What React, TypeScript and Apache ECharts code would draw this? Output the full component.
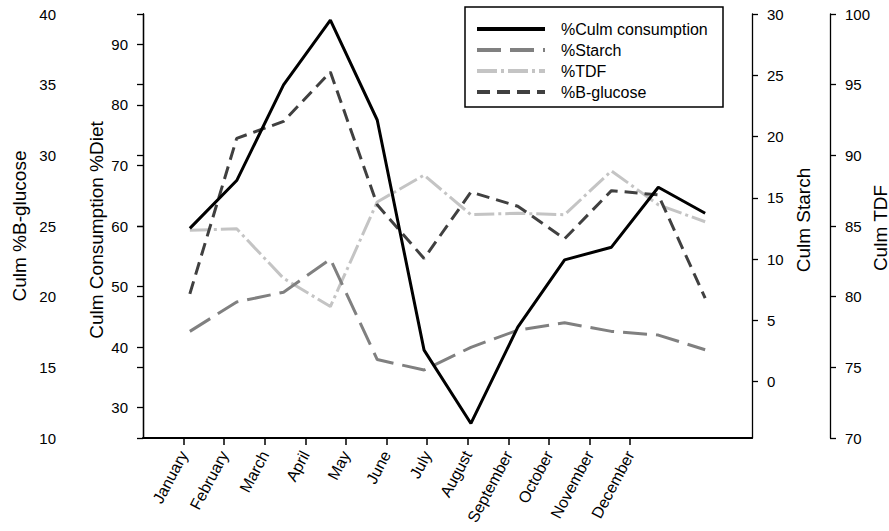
import React, { useEffect, useRef } from "react";
import * as echarts from "echarts";

// Months shown along the bottom axis
const months = [
  "January", "February", "March", "April", "May", "June",
  "July", "August", "September", "October", "November", "December",
];

// Monthly values for each series
const culmConsumption = [59.6, 67.5, 83.3, 94.0, 77.5, 39.5, 27.4, 43.3, 54.4, 56.5, 66.4, 62.1];
const starch = [4.1, 6.5, 7.3, 10.0, 1.8, 0.95, 2.8, 4.2, 4.8, 4.1, 3.8, 2.6];
const tdf = [84.7, 84.8, 81.3, 79.3, 86.7, 88.6, 85.8, 85.9, 85.8, 88.9, 86.5, 85.3];
const bGlucose = [20.2, 31.2, 32.4, 35.9, 26.5, 22.7, 27.4, 26.4, 24.1, 27.5, 27.2, 19.9];

// Tick values for each axis
const monthTicks = [1, 2, 3, 4, 5, 6, 7, 8, 9, 10, 11, 12];
const consumptionTicks = [30, 40, 50, 60, 70, 80, 90];
const starchTicks = [0, 5, 10, 15, 20, 25, 30];

const FONT = "'Liberation Sans', Arial, Helvetica, sans-serif";
const AXIS_COLOR = "#000";

const pairs = (vals: number[]) => vals.map((v, i) => [i + 1, v]);

const yAxisBase = (position: "left" | "right", offset: number) => ({
  type: "value" as const,
  position,
  offset,
  splitLine: { show: false },
  axisLine: { show: true, lineStyle: { color: AXIS_COLOR, width: 1.3 } },
  axisTick: { show: true, length: 6, lineStyle: { color: AXIS_COLOR, width: 1.3 } },
  axisLabel: { color: "#000", fontSize: 15, fontFamily: FONT, margin: 15 },
});

export default function App() {
  const ref = useRef<HTMLDivElement>(null);

  useEffect(() => {
    if (!ref.current) return;
    const chart = echarts.init(ref.current, null, { renderer: "svg" });

    const titleText = (text: string, x: number, y: number) => ({
      type: "text",
      x,
      y,
      rotation: Math.PI / 2,
      style: {
        text,
        fill: "#000",
        fontSize: 19,
        fontFamily: FONT,
        align: "center",
        verticalAlign: "middle",
      },
    });

    chart.setOption({
      animation: false,
      backgroundColor: "#fff",
      grid: { left: 143, right: 137, top: 14, bottom: 93, containLabel: false },
      xAxis: [
        {
          type: "value",
          min: 0,
          max: 15,
          splitLine: { show: false },
          axisLine: { show: true, onZero: false, lineStyle: { color: AXIS_COLOR, width: 2 } },
          axisTick: {
            show: true,
            customValues: monthTicks,
            length: 7,
            lineStyle: { color: AXIS_COLOR, width: 1.5 },
          },
          axisLabel: {
            customValues: monthTicks,
            formatter: (v: number) => months[Math.round(v) - 1] ?? "",
            rotate: 62,
            margin: 14,
            color: "#000",
            fontSize: 16,
            fontFamily: FONT,
          },
        },
        {
          type: "value",
          min: 0,
          max: 13,
          show: false,
        },
      ],
      yAxis: [
        {
          ...yAxisBase("left", 0),
          min: 25,
          max: 95,
          axisTick: { ...yAxisBase("left", 0).axisTick, customValues: consumptionTicks },
          axisLabel: { ...yAxisBase("left", 0).axisLabel, customValues: consumptionTicks },
        },
        {
          ...yAxisBase("left", 72),
          min: 10,
          max: 40,
          interval: 5,
        },
        {
          ...yAxisBase("right", 0),
          min: -4.6,
          max: 30,
          axisTick: { ...yAxisBase("right", 0).axisTick, customValues: starchTicks },
          axisLabel: { ...yAxisBase("right", 0).axisLabel, customValues: starchTicks },
        },
        {
          ...yAxisBase("right", 78),
          min: 70,
          max: 100,
          interval: 5,
        },
      ],
      legend: {
        orient: "vertical",
        left: 475,
        top: 20,
        padding: 0,
        itemWidth: 68,
        itemHeight: 18,
        itemGap: 3,
        itemStyle: { opacity: 0 },
        lineStyle: { width: 4 },
        textStyle: {
          color: "#000",
          fontSize: 16,
          fontFamily: FONT,
          lineHeight: 18,
          padding: [0, 0, 0, 11],
        },
        data: ["%Culm consumption", "%Starch", "%TDF", "%B-glucose"],
      },
      graphic: [
        {
          type: "rect",
          shape: { x: 465, y: 7, width: 258, height: 100 },
          style: { fill: "none", stroke: "#000", lineWidth: 1.5 },
          z: 10,
        },
        titleText("Culm %B-glucose", 19, 226),
        titleText("Culm Consumption %Diet", 96, 230),
        titleText("Culm Starch", 803, 220),
        titleText("Culm TDF", 880, 228),
      ],
      series: [
        {
          name: "%Culm consumption",
          type: "line",
          xAxisIndex: 1,
          yAxisIndex: 0,
          data: pairs(culmConsumption),
          symbol: "none",
          color: "#000",
          lineStyle: { color: "#000", width: 3, type: "solid" },
          z: 5,
        },
        {
          name: "%Starch",
          type: "line",
          xAxisIndex: 1,
          yAxisIndex: 2,
          data: pairs(starch),
          symbol: "none",
          color: "#808080",
          lineStyle: { color: "#808080", width: 3, type: [24, 9] },
          z: 3,
        },
        {
          name: "%TDF",
          type: "line",
          xAxisIndex: 1,
          yAxisIndex: 3,
          data: pairs(tdf),
          symbol: "none",
          color: "#c4c4c4",
          lineStyle: { color: "#c4c4c4", width: 3, type: [20, 4, 3, 4] },
          z: 2,
        },
        {
          name: "%B-glucose",
          type: "line",
          xAxisIndex: 1,
          yAxisIndex: 1,
          data: pairs(bGlucose),
          symbol: "none",
          color: "#404040",
          lineStyle: { color: "#404040", width: 3, type: [13, 7] },
          z: 4,
        },
      ],
    });

    return () => chart.dispose();
  }, []);

  return (
    <div
      ref={ref}
      style={{ position: "fixed", left: 0, top: 0, width: 889, height: 531 }}
    />
  );
}
